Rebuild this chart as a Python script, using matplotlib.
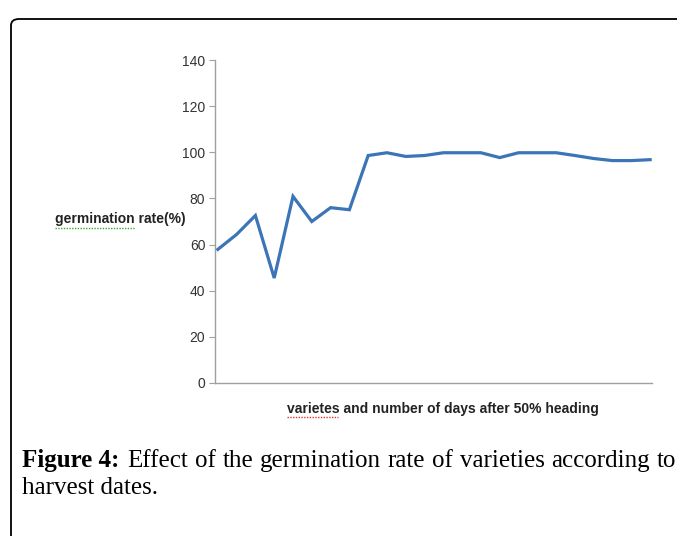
import matplotlib.pyplot as plt
from matplotlib.patches import FancyBboxPatch
from matplotlib.lines import Line2D

# germination rate (%) per variety / harvest date
rates = [57.9, 64.4, 72.6, 45.5, 80.9, 70.0, 76.0, 75.1, 98.6, 99.8,
         98.2, 98.6, 99.8, 99.8, 99.8, 97.7, 99.8, 99.8, 99.8, 98.6,
         97.3, 96.4, 96.4, 96.8]
positions = list(range(len(rates)))
yticks = [0, 20, 40, 60, 80, 100, 120, 140]

W, H = 677, 536
fig = plt.figure(figsize=(W / 100, H / 100), dpi=100)

# frame round the figure (runs past the right and bottom edges)
frame = FancyBboxPatch((11 / W, -0.2), 1.2, 1 - 19 / H + 0.2,
                       boxstyle="round,pad=0,rounding_size=0.012",
                       transform=fig.transFigure, fill=False,
                       edgecolor="black", linewidth=1.3)
fig.patches.append(frame)

ax = fig.add_axes([215 / W, 1 - 383 / H, (652 - 215) / W, (383 - 60) / H])
ax.plot(positions, rates, color="#3c74b8", linewidth=2.3, solid_joinstyle="miter")
ax.set_xlim(-0.15, len(rates) - 0.9)
ax.set_ylim(0, 140)
ax.set_yticks(yticks)
ax.set_xticks([])

for side in ["top", "right"]:
    ax.spines[side].set_visible(False)
for side in ["left", "bottom"]:
    ax.spines[side].set_color("#a0a0a0")
    ax.spines[side].set_linewidth(1.0)
ax.tick_params(axis="y", length=4, width=0.8, color="#a0a0a0",
               labelsize=10, labelcolor="#333333", pad=3)
for lab in ax.get_yticklabels():
    lab.set_fontfamily("Liberation Sans")

fig.text(55 / W, 1 - 219 / H, "germination rate(%)", fontsize=10,
         fontweight="bold", family="Liberation Sans", color="#222222",
         ha="left", va="center")
fig.text(443 / W, 1 - 409 / H, "varietes and number of days after 50% heading",
         fontsize=10, fontweight="bold", family="Liberation Sans",
         color="#222222", ha="center", va="center")

# spell-check squiggles under the two words, as in the source document
fig.lines.append(Line2D([55 / W, 135 / W], [1 - 228 / H] * 2, transform=fig.transFigure,
                        color="#3aa63a", linewidth=1.0, linestyle=(0, (1, 1))))
fig.lines.append(Line2D([287 / W, 338 / W], [1 - 417 / H] * 2, transform=fig.transFigure,
                        color="#e03030", linewidth=1.0, linestyle=(0, (1, 1))))

# caption: bold label, then the rest placed right after it
fig.canvas.draw()
r = fig.canvas.get_renderer()
lbl = fig.text(22 / W, 1 - 467 / H, "Figure 4:", fontsize=18, fontweight="bold",
               family="Liberation Serif", ha="left", va="baseline")
bb = lbl.get_window_extent(renderer=r)
words = "Effect of the germination rate of varieties according to".split(" ")
widths = []
for w in words:
    t = fig.text(0, 0, w, fontsize=18, family="Liberation Serif")
    widths.append(t.get_window_extent(renderer=r).width)
    t.remove()
start = bb.x1 + 8
gap = (676 - start - sum(widths)) / (len(words) - 1)
x = start
for w, wd in zip(words, widths):
    fig.text(x / W, 1 - 467 / H, w, fontsize=18, family="Liberation Serif",
             ha="left", va="baseline")
    x += wd + gap
fig.text(22 / W, 1 - 494 / H, "harvest dates.", fontsize=18,
         family="Liberation Serif", ha="left", va="baseline")

fig.savefig("out.png", dpi=100)
